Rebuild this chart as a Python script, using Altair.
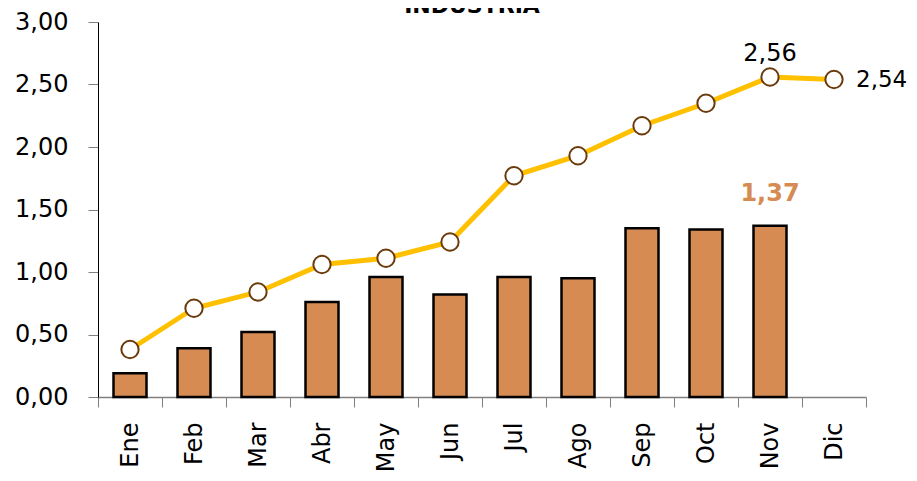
import altair as alt
import pandas as pd

meses = ["Ene", "Feb", "Mar", "Abr", "May", "Jun", "Jul", "Ago", "Sep", "Oct", "Nov", "Dic"]
barras = [0.19, 0.39, 0.52, 0.76, 0.96, 0.82, 0.96, 0.95, 1.35, 1.34, 1.37, None]
linea = [0.38, 0.71, 0.84, 1.06, 1.11, 1.24, 1.77, 1.93, 2.17, 2.35, 2.56, 2.54]
titulo = "INDUSTRIA"

df = pd.DataFrame({"mes": meses, "barra": barras, "linea": linea})

FONT = "DejaVu Sans"

x = alt.X("mes:N", sort=meses, title=None,
          scale=alt.Scale(paddingInner=0, paddingOuter=0),
          axis=alt.Axis(labelAngle=-90, labelFontSize=24, labelFont=FONT, labelColor="black",
                        tickBand="extent", tickSize=10, tickColor="#808080", domainColor="#808080",
                        domainWidth=1.5, labelPadding=15))
y_scale = alt.Scale(domain=[0, 3])
y_axis = alt.Axis(values=[0, 0.5, 1, 1.5, 2, 2.5, 3], labelExpr="replace(format(datum.value, '.2f'), '.', ',')",
                  labelFontSize=24, labelFont=FONT, labelColor="black", tickSize=10, tickColor="#808080",
                  domainColor="black", grid=False, labelPadding=20)

base = alt.Chart(df)

bars = base.mark_bar(size=33, color="#D68B52", stroke="black", strokeWidth=2.5).encode(
    x=x, y=alt.Y("barra:Q", scale=y_scale, axis=y_axis, title=None)
).transform_filter("datum.barra != null")

line = base.mark_line(color="#FFC000", strokeWidth=5).encode(
    x=x, y=alt.Y("linea:Q", scale=y_scale)
)
pts = base.mark_point(shape="circle", filled=True, fill="white", stroke="#6B3A0A", strokeWidth=2,
                      size=300, opacity=1).encode(x=x, y=alt.Y("linea:Q", scale=y_scale))

lbl_nov = base.transform_filter("datum.mes == 'Nov'").transform_calculate(
    t="replace(format(datum.linea, '.2f'), '.', ',')").mark_text(
    fontSize=24, font=FONT, color="black", dy=-23, baseline="middle").encode(
    x=x, y=alt.Y("linea:Q", scale=y_scale), text="t:N")
lbl_dic = base.transform_filter("datum.mes == 'Dic'").transform_calculate(
    t="replace(format(datum.linea, '.2f'), '.', ',')").mark_text(
    fontSize=23, font=FONT, color="black", dx=22, align="left", baseline="middle").encode(
    x=x, y=alt.Y("linea:Q", scale=y_scale), text="t:N")
lbl_bar = base.transform_filter("datum.mes == 'Nov'").transform_calculate(
    t="replace(format(datum.barra, '.2f'), '.', ',')").mark_text(
    fontSize=24, font=FONT, fontWeight="bold", color="#D68B52", dy=-20, baseline="bottom").encode(
    x=x, y=alt.Y("barra:Q", scale=y_scale), text="t:N")

title_mark = alt.Chart(pd.DataFrame({"t": [titulo]})).mark_text(
    fontSize=22, font=FONT, fontWeight="bold", color="black", baseline="alphabetic", align="center").encode(
    x=alt.value(374), y=alt.value(-9), text="t:N")

chart = alt.layer(bars, line, pts, lbl_nov, lbl_dic, lbl_bar, title_mark).properties(
    width=768, height=375,
    autosize=alt.AutoSizeParams(type="none"),
    padding={"left": 90, "top": 14, "right": 43, "bottom": 76},
).configure_view(stroke=None)

chart.save("out.html", embed_options={"renderer": "svg", "actions": False})
